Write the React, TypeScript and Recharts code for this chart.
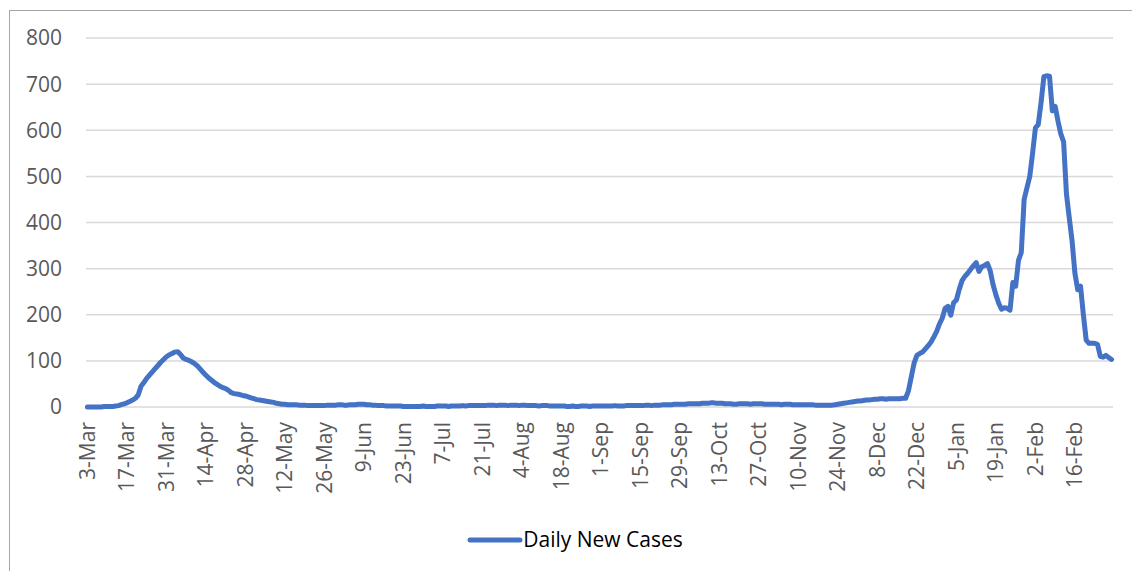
import { CartesianGrid, Legend, Line, LineChart, XAxis, YAxis } from "recharts";

const tickLabels = [
  "3-Mar", "17-Mar", "31-Mar", "14-Apr", "28-Apr", "12-May", "26-May", "9-Jun", "23-Jun",
  "7-Jul", "21-Jul", "4-Aug", "18-Aug", "1-Sep", "15-Sep", "29-Sep", "13-Oct", "27-Oct",
  "10-Nov", "24-Nov", "8-Dec", "22-Dec", "5-Jan", "19-Jan", "2-Feb", "16-Feb",
];

const yTicks = [0, 100, 200, 300, 400, 500, 600, 700, 800];

// one value per day, each row starts on a tick date
const dailyNewCases = [
  0, 0, 0, 0, 0, 0, 1, 1, 1, 1, 2, 3, 5, 7, // 3-Mar
  9, 12, 15, 19, 26, 45, 53, 62, 69, 76, 83, 90, 97, 103, // 17-Mar
  109, 113, 116, 119, 120, 114, 106, 103, 101, 98, 94, 89, 82, 75, // 31-Mar
  69, 63, 58, 53, 49, 45, 42, 40, 36, 31, 29, 28, 27, 25, // 14-Apr
  24, 22, 20, 18, 16, 15, 14, 13, 12, 11, 10, 8, 7, 6, // 28-Apr
  6, 5, 5, 5, 5, 4, 4, 4, 3, 3, 3, 3, 3, 3, // 12-May
  3, 4, 4, 4, 4, 5, 5, 4, 4, 5, 5, 5, 6, 6, // 26-May
  6, 5, 5, 4, 4, 3, 3, 3, 2, 2, 2, 2, 2, 2, // 9-Jun
  1, 1, 1, 1, 1, 1, 1, 2, 1, 1, 1, 1, 2, 2, // 23-Jun
  2, 2, 1, 2, 2, 2, 2, 3, 2, 3, 3, 3, 3, 3, // 7-Jul
  3, 3, 4, 4, 4, 3, 4, 4, 4, 3, 4, 4, 4, 3, // 21-Jul
  4, 4, 3, 3, 3, 3, 2, 3, 3, 3, 2, 2, 2, 2, // 4-Aug
  2, 2, 1, 1, 2, 1, 1, 2, 2, 2, 1, 2, 2, 2, // 18-Aug
  2, 2, 2, 2, 2, 3, 2, 2, 2, 3, 3, 3, 3, 3, // 1-Sep
  3, 3, 4, 4, 3, 4, 4, 4, 5, 5, 5, 5, 6, 6, // 15-Sep
  6, 6, 6, 7, 7, 7, 7, 7, 8, 8, 8, 9, 9, 8, // 29-Sep
  8, 8, 7, 7, 7, 6, 6, 7, 7, 7, 7, 6, 7, 7, // 13-Oct
  7, 7, 6, 6, 6, 6, 6, 6, 5, 6, 6, 6, 5, 5, // 27-Oct
  5, 5, 5, 5, 5, 5, 4, 4, 4, 4, 4, 4, 4, 5, // 10-Nov
  6, 7, 8, 9, 10, 11, 12, 13, 13, 14, 15, 15, 16, 17, // 24-Nov
  17, 18, 18, 17, 18, 18, 18, 18, 18, 19, 19, 35, 65, 95, // 8-Dec
  112, 116, 119, 126, 133, 141, 152, 164, 180, 193, 214, 218, 199, 226, // 22-Dec
  232, 255, 274, 283, 290, 298, 306, 313, 294, 304, 307, 311, 295, 265, // 5-Jan
  243, 225, 212, 215, 214, 210, 270, 262, 318, 335, 450, 475, 500, 550, // 19-Jan
  605, 612, 660, 716, 718, 717, 642, 652, 620, 592, 575, 462, 410, 360, // 2-Feb
  290, 254, 262, 200, 145, 138, 138, 138, 136, 110, 108, 112, 107, 103, // 16-Feb
];

const FONT = "'Open Sans', 'Noto Sans', sans-serif";
const LINE_COLOR = "#4472C4";

const chartData = dailyNewCases.map((value, day) => ({ day, value }));
const tickDays = tickLabels.map((_, k) => k * 14);

function DateTick({ x, y, payload }: any) {
  const label = tickLabels[tickDays.indexOf(payload.value)] ?? "";
  return (
    <text
      x={x}
      y={y}
      transform={`rotate(-90, ${x}, ${y})`}
      textAnchor="end"
      dy="0.35em"
      fill="#595959"
      fontSize={21}
      fontFamily={FONT}
    >
      {label}
    </text>
  );
}

function LegendContent() {
  return (
    <div style={{ display: "flex", alignItems: "center", justifyContent: "center", paddingLeft: 8 }}>
      <svg width={56} height={10}>
        <line x1={3} y1={5} x2={53} y2={5} stroke={LINE_COLOR} strokeWidth={5} strokeLinecap="round" />
      </svg>
      <span style={{ fontFamily: FONT, fontSize: 21, color: "#000", lineHeight: "29px" }}>Daily New Cases</span>
    </div>
  );
}

export default function App() {
  return (
    <div
      style={{
        position: "fixed",
        left: 9,
        top: 10,
        borderTop: "1px solid #a6a6a6",
        borderLeft: "1px solid #a6a6a6",
        background: "#fff",
      }}
    >
      <LineChart width={1122} height={560} data={chartData} margin={{ top: 27, right: 19, left: 0, bottom: 0 }}>
        <CartesianGrid vertical={false} stroke="#d9d9d9" strokeWidth={1.5} />
        <XAxis
          dataKey="day"
          type="number"
          domain={[-0.5, 363.5]}
          ticks={tickDays}
          interval={0}
          axisLine={false}
          tickLine={false}
          tickSize={0}
          tickMargin={15}
          height={164}
          tick={<DateTick />}
        />
        <YAxis
          domain={[0, 800]}
          ticks={yTicks}
          axisLine={false}
          tickLine={false}
          tickSize={0}
          tickMargin={24}
          width={76}
          tick={{ fill: "#595959", fontSize: 21, fontFamily: FONT }}
        />
        <Legend
          layout="horizontal"
          verticalAlign="middle"
          content={<LegendContent />}
          wrapperStyle={{ top: 514, left: 0, width: 1122 }}
        />
        <Line
          type="linear"
          dataKey="value"
          name="Daily New Cases"
          stroke={LINE_COLOR}
          strokeWidth={5}
          strokeLinejoin="round"
          strokeLinecap="round"
          dot={false}
          activeDot={false}
          isAnimationActive={false}
        />
      </LineChart>
    </div>
  );
}
